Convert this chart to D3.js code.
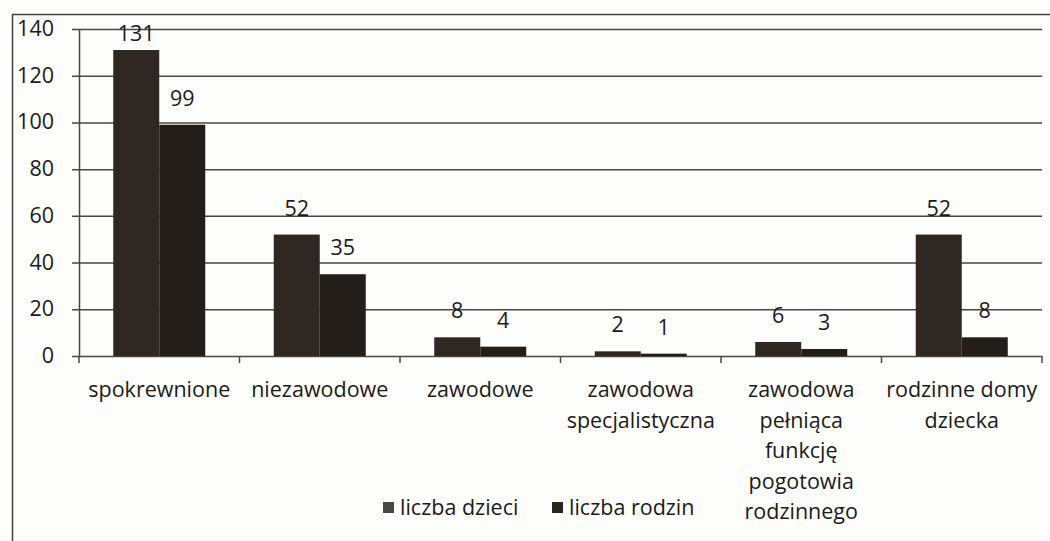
<!DOCTYPE html>
<html>
<head>
<meta charset="utf-8">
<script src="https://cdn.jsdelivr.net/npm/d3@7"></script>
<style>
  body { margin: 0; background: #fdfdfb; }
  text { font-family: "Open Sans", Lato, sans-serif; fill: #1c1a18; }
</style>
</head>
<body>
<div id="chart"></div>
<script>
var categories = ['spokrewnione', 'niezawodowe', 'zawodowe', 'zawodowa specjalistyczna',
                  'zawodowa pełniąca funkcję pogotowia rodzinnego', 'rodzinne domy dziecka'];
var tickLabels = ['spokrewnione', 'niezawodowe', 'zawodowe', 'zawodowa\nspecjalistyczna',
                  'zawodowa\npełniąca\nfunkcję\npogotowia\nrodzinnego', 'rodzinne domy\ndziecka'];
var dzieci = [131, 52, 8, 2, 6, 52];
var rodzin = [99, 35, 4, 1, 3, 8];
var seriesNames = ['liczba dzieci', 'liczba rodzin'];
var yTicks = [0, 20, 40, 60, 80, 100, 120, 140];

var width = 1050, height = 541;
var margin = {top: 29, right: 8, bottom: 185, left: 79};
var colors = ['#2f2822', '#241e1a'];
var fontSize = '21.5px';

var svg = d3.select('#chart').append('svg')
  .attr('width', width)
  .attr('height', height);

// outer frame (runs off the picture on right and bottom)
svg.append('rect')
  .attr('x', 12.5).attr('y', 14.5)
  .attr('width', 1100).attr('height', 600)
  .attr('fill', 'none')
  .attr('stroke', '#444')
  .attr('stroke-width', 1.5);

var x = d3.scaleBand()
  .domain(categories)
  .range([margin.left, width - margin.right]);

var y = d3.scaleLinear()
  .domain([0, 140])
  .range([height - margin.bottom, margin.top]);

var inner = d3.scaleBand()
  .domain(seriesNames)
  .range([0, 92]);
var innerOffset = (x.bandwidth() - 92) / 2;

// gridlines
svg.append('g')
  .selectAll('line')
  .data(yTicks)
  .enter()
  .append('line')
  .attr('x1', margin.left - 7)
  .attr('x2', width - margin.right)
  .attr('y1', function(d){ return y(d) + 0.5; })
  .attr('y2', function(d){ return y(d) + 0.5; })
  .attr('stroke', '#4a4640')
  .attr('stroke-width', 1.5);

// y axis labels
svg.append('g')
  .selectAll('text')
  .data(yTicks)
  .enter()
  .append('text')
  .attr('x', 54)
  .attr('y', function(d){ return y(d) + 7; })
  .attr('text-anchor', 'end')
  .style('font-size', fontSize)
  .text(function(d){ return d; });

// y axis line
svg.append('line')
  .attr('x1', margin.left + 0.5).attr('x2', margin.left + 0.5)
  .attr('y1', y(140)).attr('y2', y(0))
  .attr('stroke', '#4a4640').attr('stroke-width', 1.5);

// x tick marks at band edges
var edges = categories.map(function(c){ return x(c); }).concat([x.range()[1]]);
svg.append('g')
  .selectAll('line')
  .data(edges)
  .enter()
  .append('line')
  .attr('x1', function(d){ return d; })
  .attr('x2', function(d){ return d; })
  .attr('y1', y(0)).attr('y2', y(0) + 7)
  .attr('stroke', '#4a4640').attr('stroke-width', 1.5);

// bars
var rows = categories.map(function(c, i){
  return [{cat: c, s: seriesNames[0], v: dzieci[i], k: 0},
          {cat: c, s: seriesNames[1], v: rodzin[i], k: 1}];
});
var flat = [].concat.apply([], rows);

svg.append('g')
  .selectAll('rect')
  .data(flat)
  .enter()
  .append('rect')
  .attr('x', function(d){ return x(d.cat) + innerOffset + inner(d.s); })
  .attr('y', function(d){ return y(d.v); })
  .attr('width', inner.bandwidth())
  .attr('height', function(d){ return y(0) - y(d.v); })
  .attr('fill', function(d){ return colors[d.k]; });

// value labels (kept inside the plot area at the top, like Excel does)
svg.append('g')
  .selectAll('text')
  .data(flat)
  .enter()
  .append('text')
  .attr('x', function(d){ return x(d.cat) + innerOffset + inner(d.s) + inner.bandwidth() / 2; })
  .attr('y', function(d){ return Math.max(y(d.v) - 19, margin.top + 12); })
  .attr('text-anchor', 'middle')
  .style('font-size', fontSize)
  .text(function(d){ return d.v; });

// category labels
var catLabels = svg.append('g')
  .selectAll('text')
  .data(categories)
  .enter()
  .append('text')
  .attr('text-anchor', 'middle')
  .style('font-size', fontSize);
catLabels.each(function(d, i){
  var lines = tickLabels[i].split('\n');
  var t = d3.select(this);
  lines.forEach(function(l, j){
    t.append('tspan')
      .attr('x', x(d) + x.bandwidth() / 2)
      .attr('y', 397 + j * 30.5)
      .text(l);
  });
});

// legend
var legendX = [383, 552];
var legend = svg.append('g')
  .selectAll('g')
  .data(seriesNames)
  .enter()
  .append('g')
  .attr('transform', function(d, i){ return 'translate(' + legendX[i] + ',508)'; });
legend.append('rect')
  .attr('x', 0).attr('y', -6)
  .attr('width', 11).attr('height', 11)
  .attr('fill', function(d, i){ return i == 0 ? '#4a4740' : '#2b2520'; });
legend.append('text')
  .attr('x', 17).attr('y', 7)
  .style('font-size', fontSize)
  .text(function(d){ return d; });
</script>
</body>
</html>
